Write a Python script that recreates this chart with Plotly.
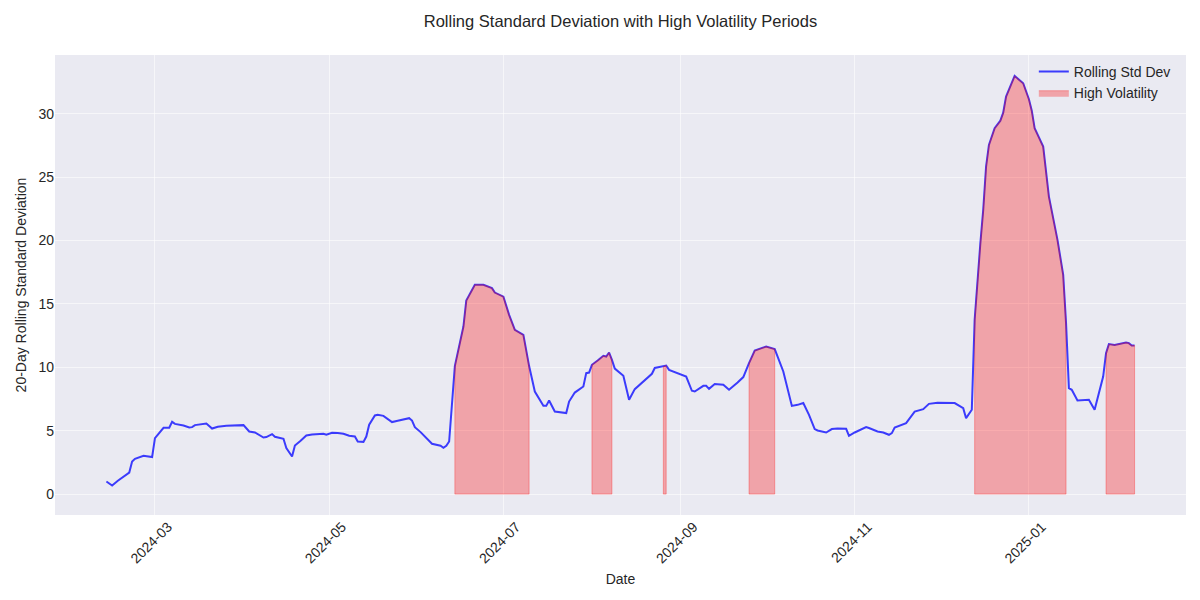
import pandas as pd
import plotly.graph_objects as go

dates = [
    "2024-02-13", "2024-02-15", "2024-02-17", "2024-02-21", "2024-02-22", "2024-02-23",
    "2024-02-26", "2024-02-28", "2024-02-29", "2024-03-01", "2024-03-04", "2024-03-06",
    "2024-03-07", "2024-03-08", "2024-03-11", "2024-03-13", "2024-03-14", "2024-03-15",
    "2024-03-19", "2024-03-21", "2024-03-23", "2024-03-26", "2024-04-01", "2024-04-03",
    "2024-04-05", "2024-04-08", "2024-04-09", "2024-04-11", "2024-04-12", "2024-04-15",
    "2024-04-16", "2024-04-18", "2024-04-19", "2024-04-21", "2024-04-23", "2024-04-25",
    "2024-04-28", "2024-04-29", "2024-04-30", "2024-05-02", "2024-05-04", "2024-05-06",
    "2024-05-08", "2024-05-10", "2024-05-11", "2024-05-13", "2024-05-14", "2024-05-15",
    "2024-05-17", "2024-05-18", "2024-05-20", "2024-05-22", "2024-05-23", "2024-05-25",
    "2024-05-27", "2024-05-29", "2024-05-30", "2024-05-31", "2024-06-02", "2024-06-04",
    "2024-06-05", "2024-06-06", "2024-06-09", "2024-06-10", "2024-06-11", "2024-06-12",
    "2024-06-14", "2024-06-17", "2024-06-18", "2024-06-21", "2024-06-24", "2024-06-27",
    "2024-06-28", "2024-07-01", "2024-07-03", "2024-07-05", "2024-07-08", "2024-07-10",
    "2024-07-12", "2024-07-15", "2024-07-16", "2024-07-17", "2024-07-19", "2024-07-23",
    "2024-07-24", "2024-07-26", "2024-07-29", "2024-07-30", "2024-07-31", "2024-08-01",
    "2024-08-03", "2024-08-05", "2024-08-06", "2024-08-07", "2024-08-08", "2024-08-09",
    "2024-08-12", "2024-08-14", "2024-08-16", "2024-08-19", "2024-08-21", "2024-08-22",
    "2024-08-23", "2024-08-26", "2024-08-27", "2024-08-28", "2024-09-03", "2024-09-05",
    "2024-09-06", "2024-09-09", "2024-09-10", "2024-09-11", "2024-09-13", "2024-09-16",
    "2024-09-18", "2024-09-21", "2024-09-23", "2024-09-25", "2024-09-27", "2024-10-01",
    "2024-10-03", "2024-10-04", "2024-10-07", "2024-10-09", "2024-10-10", "2024-10-12",
    "2024-10-14", "2024-10-16", "2024-10-18", "2024-10-19", "2024-10-22", "2024-10-24",
    "2024-10-26", "2024-10-29", "2024-10-30", "2024-11-01", "2024-11-05", "2024-11-06",
    "2024-11-09", "2024-11-11", "2024-11-13", "2024-11-14", "2024-11-15", "2024-11-19",
    "2024-11-22", "2024-11-25", "2024-11-27", "2024-11-30", "2024-12-04", "2024-12-06",
    "2024-12-09", "2024-12-10", "2024-12-12", "2024-12-13", "2024-12-15", "2024-12-16",
    "2024-12-17", "2024-12-18", "2024-12-20", "2024-12-22", "2024-12-23", "2024-12-24",
    "2024-12-27", "2024-12-30", "2025-01-01", "2025-01-02", "2025-01-03", "2025-01-06",
    "2025-01-08", "2025-01-11", "2025-01-13", "2025-01-14", "2025-01-15", "2025-01-16",
    "2025-01-18", "2025-01-22", "2025-01-24", "2025-01-27", "2025-01-28", "2025-01-29",
    "2025-01-31", "2025-02-04", "2025-02-05", "2025-02-06", "2025-02-07",
]

rolling_std = [
    0.99, 0.68, 1.05, 1.70, 2.57, 2.78,
    3.02, 2.92, 2.92, 4.42, 5.23, 5.23,
    5.70, 5.54, 5.41, 5.25, 5.28, 5.44,
    5.57, 5.17, 5.31, 5.39, 5.44, 4.94,
    4.86, 4.46, 4.50, 4.73, 4.52, 4.36,
    3.63, 2.97, 3.83, 4.20, 4.62, 4.70,
    4.76, 4.76, 4.68, 4.83, 4.81, 4.76,
    4.60, 4.54, 4.15, 4.12, 4.54, 5.47,
    6.20, 6.25, 6.17, 5.86, 5.68, 5.78,
    5.86, 5.99, 5.80, 5.28, 4.89, 4.42,
    4.23, 3.97, 3.81, 3.65, 3.81, 4.15,
    10.10, 13.22, 15.27, 16.51, 16.51, 16.25,
    15.90, 15.58, 14.14, 12.96, 12.56, 10.10,
    8.09, 6.96, 6.96, 7.38, 6.51, 6.39,
    7.30, 8.01, 8.49, 9.54, 9.59, 10.20,
    10.54, 10.91, 10.85, 11.17, 10.59, 9.90,
    9.33, 7.44, 8.28, 8.88, 9.33, 9.49,
    9.95, 10.05, 10.14, 9.80, 9.27, 8.15,
    8.09, 8.54, 8.54, 8.30, 8.68, 8.62,
    8.23, 8.80, 9.23, 10.33, 11.32, 11.64,
    11.51, 11.44, 9.67, 7.75, 6.96, 7.04,
    7.18, 6.25, 5.13, 5.02, 4.86, 5.13,
    5.17, 5.15, 4.60, 4.86, 5.28, 5.21,
    4.94, 4.86, 4.68, 4.81, 5.25, 5.60,
    6.51, 6.70, 7.12, 7.20, 7.22, 7.18,
    6.78, 5.99, 6.65, 13.75, 19.79, 22.42,
    25.84, 27.55, 28.86, 29.46, 30.09, 31.36,
    32.99, 32.41, 31.15, 30.25, 28.86, 27.41,
    23.47, 20.06, 17.30, 13.49, 8.36, 8.23,
    7.38, 7.44, 6.65, 9.27, 11.12, 11.83,
    11.77, 11.96, 11.91, 11.72, 11.72,
]

THRESHOLD = 10.0

FONT = "Liberation Sans, Arial, Helvetica, sans-serif"
TEXT = "#262626"
BG = "#EAEAF2"

x = pd.to_datetime(dates)
y = rolling_std

fig = go.Figure()

fig.add_trace(go.Scatter(
    x=x, y=y, mode="lines", name="Rolling Std Dev",
    line=dict(color="rgba(0,0,255,0.75)", width=2),
    hoverinfo="x+y",
))

# contiguous runs above threshold -> closed polygons (like fill_between with where)
runs = []
cur = []
for xi, yi in zip(x, y):
    if yi > THRESHOLD:
        cur.append((xi, yi))
    else:
        if cur:
            runs.append(cur)
        cur = []
if cur:
    runs.append(cur)

for i, run in enumerate(runs):
    rx = [run[0][0]] + [p[0] for p in run] + [run[-1][0], run[0][0]]
    ry = [0] + [p[1] for p in run] + [0, 0]
    fig.add_trace(go.Scatter(
        x=rx, y=ry, mode="lines", fill="toself",
        fillcolor="rgba(255,0,0,0.3)",
        line=dict(color="rgba(255,0,0,0.3)", width=1),
        name="High Volatility", legendgroup="hv",
        showlegend=(i == 0), hoverinfo="skip",
    ))

span = x.max() - x.min()
xr = [x.min() - span * 0.05, x.max() + span * 0.05]
ymax = max(y)
yr = [-0.05 * ymax, ymax * 1.05]

tickvals = pd.date_range("2024-03-01", "2025-01-01", freq="2MS")

fig.update_layout(
    width=1200, height=600,
    paper_bgcolor="white", plot_bgcolor=BG,
    margin=dict(l=47, r=22, t=47, b=93),
    font=dict(family=FONT, color=TEXT, size=14),
    title=dict(
        text="Rolling Standard Deviation with High Volatility Periods",
        xref="paper", x=0.5, xanchor="center", y=0.978, yanchor="middle",
        font=dict(size=16.5, color=TEXT, family=FONT),
    ),
    legend=dict(
        x=0.991, y=0.998, xanchor="right", yanchor="top",
        bgcolor="rgba(0,0,0,0)", borderwidth=0,
        font=dict(size=14, color=TEXT), tracegroupgap=0,
    ),
    showlegend=True,
)

fig.update_xaxes(
    range=xr, tickvals=tickvals, tickformat="%Y-%m", tickangle=-45,
    showgrid=True, gridcolor="rgba(255,255,255,0.55)", gridwidth=1, zeroline=False,
    showline=False, ticks="", ticklen=0, tickfont=dict(size=14, color=TEXT), automargin=False,
    ticklabelshift=13,
    title=dict(text="Date", font=dict(size=14, color=TEXT), standoff=8),
)
fig.update_yaxes(
    range=yr, tickvals=[0, 5, 10, 15, 20, 25, 30],
    showgrid=True, gridcolor="rgba(255,255,255,0.55)", gridwidth=1, zeroline=False,
    showline=False, ticks="", ticklen=0, tickfont=dict(size=14, color=TEXT), automargin=False,
    title=dict(text="20-Day Rolling Standard Deviation", font=dict(size=14, color=TEXT), standoff=8),
)

fig.write_html("out.html")
